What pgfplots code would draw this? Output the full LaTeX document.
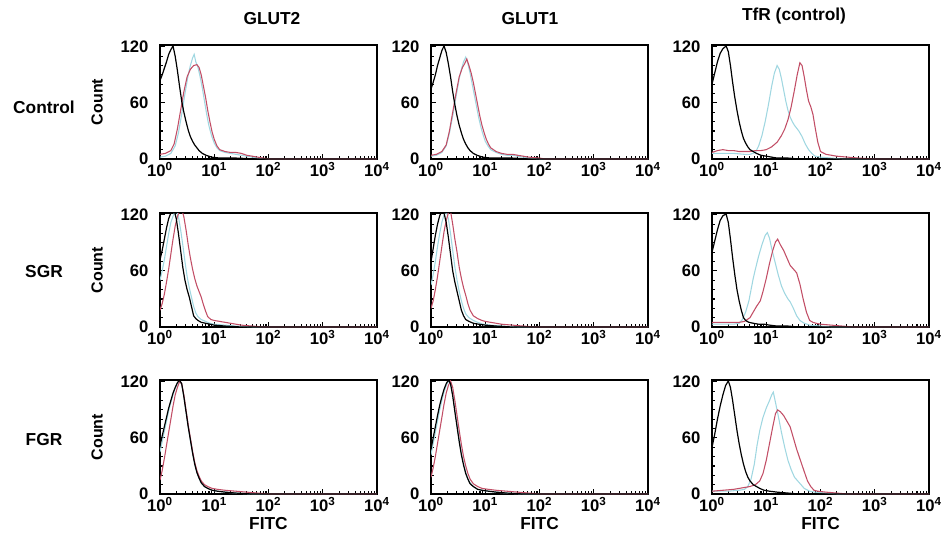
\documentclass[border=0pt]{standalone}
\usepackage{fontspec}
\setmainfont{Liberation Sans}
\usepackage{pgfplots}
\pgfplotsset{compat=1.18}
\definecolor{fblue}{HTML}{A0D7E1}
\definecolor{fred}{HTML}{C24E66}

\newcommand{\sz}[1]{\bfseries\fontsize{#1}{#1}\selectfont}
\newcommand{\dec}[1]{10\textsuperscript{#1}}

\pgfplotsset{
  panel/.style={
    scale only axis, width=162.75pt, height=85.5pt, anchor=north west,
    xmin=0, xmax=4, ymin=0, ymax=122,
    axis line style={line width=1.1pt},
    xtick={0,1,2,3,4},
    xticklabels={\dec{0},\dec{1},\dec{2},\dec{3},\dec{4}},
    minor xtick={0.301,0.477,0.602,0.699,0.778,0.845,0.903,0.954,
      1.301,1.477,1.602,1.699,1.778,1.845,1.903,1.954,
      2.301,2.477,2.602,2.699,2.778,2.845,2.903,2.954,
      3.301,3.477,3.602,3.699,3.778,3.845,3.903,3.954},
    ytick={0,60,120}, yticklabels={\raisebox{-3pt}{0}\hspace{4pt},60,120},
    minor y tick num=5,
    xtick pos=bottom, ytick pos=left,
    tick align=inside, major tick length=3.5pt, minor tick length=2.5pt,
    tick style={line width=0.8pt, black},
    ticklabel style={font=\sz{12.5}, inner sep=1.5pt},
    xticklabel style={yshift=-1pt},
    yticklabel style={xshift=-7pt},
    title style={font=\sz{13}, anchor=south},
    xlabel style={font=\sz{13}, inner sep=0pt, yshift=-2.5pt},
  },
  blk/.style={black, line width=0.9pt},
  blu/.style={fblue, line width=0.8pt},
  rd/.style={fred, line width=0.8pt},
  cnt/.style={ylabel=Count, every axis y label/.style={at={(axis description cs:-0.29,0.5)}, rotate=90, anchor=center, font=\sz{12}}},
}

\begin{document}
\begin{tikzpicture}
\useasboundingbox (0,0) rectangle (708pt,-401.25pt);

\node[font=\sz{13}] at (33pt,-80.25pt) {Control};
\node[font=\sz{13}] at (33pt,-204pt) {SGR};
\node[font=\sz{13}] at (33pt,-330pt) {FGR};

% ---- row 1: Control
\begin{axis}[panel, cnt, at={(120pt,-33.75pt)},
  title=GLUT2, title style={at={(axis description cs:0.516,1)}, yshift=6pt}]
\addplot[blu] coordinates {(0,2)(0.1,3)(0.2,6)(0.28,14)(0.34,28)(0.40,48)(0.46,70)(0.52,90)(0.56,100)(0.60,108)(0.63,112)(0.66,104)(0.70,98)(0.74,88)(0.78,76)(0.82,62)(0.86,48)(0.90,36)(0.95,25)(1.00,17)(1.05,12)(1.10,9)(1.2,7)(1.3,6)(1.4,5)(1.5,4)(1.6,3)(1.7,2)(1.8,1)(2.0,0)(4,0)};
\addplot[rd] coordinates {(0,5)(0.1,6)(0.2,9)(0.26,16)(0.32,32)(0.38,52)(0.44,72)(0.50,88)(0.56,96)(0.62,100)(0.68,101)(0.72,98)(0.76,90)(0.80,78)(0.84,66)(0.88,52)(0.92,40)(0.96,29)(1.00,21)(1.05,14)(1.10,10)(1.2,8)(1.3,7)(1.4,7)(1.5,6)(1.6,4)(1.7,3)(1.8,2)(1.9,1)(2.0,0)(4,0)};
\addplot[blk] coordinates {(0,84)(0.04,90)(0.08,97)(0.12,104)(0.16,112)(0.20,117)(0.24,121)(0.28,110)(0.32,95)(0.36,78)(0.40,62)(0.44,50)(0.48,40)(0.52,31)(0.56,24)(0.60,19)(0.64,15)(0.68,12)(0.72,9)(0.78,6)(0.85,4)(0.95,2)(1.1,1)(1.4,1)(1.8,0)(4,0)};
\end{axis}

\begin{axis}[panel, at={(323.25pt,-33.75pt)},
  title=GLUT1, title style={at={(axis description cs:0.456,1)}, yshift=6pt}]
\addplot[blu] coordinates {(0,3)(0.1,4)(0.2,7)(0.28,14)(0.34,28)(0.40,46)(0.46,66)(0.52,86)(0.56,96)(0.60,104)(0.64,109)(0.68,102)(0.72,92)(0.76,80)(0.80,68)(0.84,56)(0.88,44)(0.92,34)(0.96,26)(1.00,19)(1.05,14)(1.1,10)(1.2,7)(1.3,5)(1.4,4)(1.5,4)(1.6,3)(1.8,1)(2.0,0)(4,0)};
\addplot[rd] coordinates {(0,4)(0.1,5)(0.2,8)(0.28,15)(0.34,30)(0.40,50)(0.46,70)(0.52,88)(0.58,98)(0.62,102)(0.66,107)(0.70,100)(0.74,92)(0.78,82)(0.82,70)(0.86,58)(0.90,46)(0.94,36)(0.98,28)(1.02,21)(1.06,16)(1.1,12)(1.2,8)(1.3,6)(1.4,5)(1.5,5)(1.6,4)(1.7,3)(1.8,2)(2.0,1)(2.1,0)(4,0)};
\addplot[blk] coordinates {(0,75)(0.04,82)(0.08,90)(0.12,100)(0.16,108)(0.20,116)(0.24,121)(0.28,114)(0.32,102)(0.36,88)(0.40,72)(0.44,58)(0.48,46)(0.52,36)(0.56,28)(0.60,21)(0.64,16)(0.68,12)(0.72,9)(0.78,6)(0.85,4)(0.95,2)(1.1,1)(1.5,1)(1.8,0)(4,0)};
\end{axis}

\begin{axis}[panel, at={(534pt,-33.75pt)},
  title={TfR (control)}, title style={at={(axis description cs:0.378,1)}, yshift=6pt}]
\addplot[blu] coordinates {(0,6)(0.2,6)(0.4,6)(0.6,5)(0.7,5)(0.8,7)(0.86,14)(0.92,25)(0.98,40)(1.04,58)(1.10,78)(1.15,92)(1.20,100)(1.24,96)(1.28,86)(1.32,74)(1.36,62)(1.40,52)(1.44,45)(1.48,40)(1.52,36)(1.56,33)(1.60,30)(1.66,24)(1.72,16)(1.78,10)(1.84,6)(1.9,3)(2.0,2)(2.2,1)(2.4,0)(4,0)};
\addplot[rd] coordinates {(0,7)(0.1,9)(0.2,10)(0.3,9)(0.4,9)(0.5,8)(0.6,8)(0.7,8)(0.8,9)(0.9,9)(1.0,10)(1.1,13)(1.2,18)(1.28,25)(1.34,32)(1.40,42)(1.46,56)(1.52,74)(1.57,90)(1.62,103)(1.66,100)(1.70,88)(1.74,74)(1.78,62)(1.82,56)(1.86,48)(1.90,34)(1.95,18)(2.0,8)(2.1,5)(2.2,4)(2.3,3)(2.5,2)(2.7,1)(3.0,0)(4,0)};
\addplot[blk] coordinates {(0,80)(0.05,92)(0.10,104)(0.15,113)(0.20,118)(0.26,121)(0.30,115)(0.34,100)(0.38,82)(0.42,66)(0.46,52)(0.50,40)(0.54,30)(0.58,22)(0.62,17)(0.66,13)(0.70,10)(0.76,8)(0.82,6)(0.90,4)(1.0,3)(1.1,2)(1.2,1)(1.4,1)(1.6,0)(4,0)};
\end{axis}

% ---- row 2: SGR
\begin{axis}[panel, cnt, at={(120pt,-159.75pt)}]
\addplot[blu] coordinates {(0,50)(0.04,60)(0.08,72)(0.12,86)(0.16,100)(0.20,112)(0.25,120)(0.30,125)(0.34,118)(0.38,104)(0.42,88)(0.46,70)(0.50,54)(0.54,42)(0.58,32)(0.62,22)(0.66,15)(0.70,11)(0.76,8)(0.84,6)(0.92,4)(1.0,3)(1.2,2)(1.4,1)(1.7,0)(4,0)};
\addplot[rd] coordinates {(0,18)(0.04,25)(0.08,35)(0.12,48)(0.16,62)(0.20,78)(0.24,94)(0.28,108)(0.32,118)(0.36,124)(0.40,126)(0.44,118)(0.48,104)(0.52,88)(0.56,74)(0.60,62)(0.64,52)(0.68,44)(0.72,38)(0.76,32)(0.80,24)(0.84,17)(0.88,11)(0.94,8)(1.0,7)(1.1,6)(1.2,5)(1.3,4)(1.4,3)(1.5,2)(1.7,1)(1.9,0)(4,0)};
\addplot[blk] coordinates {(0,72)(0.04,82)(0.08,94)(0.12,106)(0.16,116)(0.20,122)(0.26,125)(0.30,116)(0.34,100)(0.38,82)(0.42,64)(0.46,50)(0.50,40)(0.54,32)(0.58,22)(0.62,12)(0.66,9)(0.70,7)(0.76,5)(0.84,4)(0.92,3)(1.0,2)(1.2,1)(1.5,0)(4,0)};
\end{axis}

\begin{axis}[panel, at={(323.25pt,-159.75pt)}]
\addplot[blu] coordinates {(0,45)(0.04,56)(0.08,70)(0.12,86)(0.16,100)(0.20,112)(0.24,120)(0.28,124)(0.32,116)(0.36,100)(0.40,82)(0.44,64)(0.48,50)(0.52,38)(0.56,28)(0.60,20)(0.64,14)(0.70,10)(0.78,7)(0.86,5)(0.96,3)(1.1,2)(1.3,1)(1.6,0)(4,0)};
\addplot[rd] coordinates {(0,20)(0.04,28)(0.08,40)(0.12,54)(0.16,70)(0.20,86)(0.24,102)(0.28,114)(0.32,122)(0.36,124)(0.40,110)(0.44,94)(0.48,80)(0.52,64)(0.56,52)(0.60,42)(0.64,34)(0.68,25)(0.72,18)(0.78,12)(0.86,9)(0.94,7)(1.0,6)(1.1,5)(1.2,4)(1.3,3)(1.5,2)(1.7,1)(1.9,0)(4,0)};
\addplot[blk] coordinates {(0,70)(0.04,84)(0.08,98)(0.12,110)(0.16,119)(0.20,124)(0.24,122)(0.28,112)(0.32,96)(0.36,78)(0.40,60)(0.44,48)(0.48,38)(0.52,28)(0.56,18)(0.60,12)(0.64,8)(0.70,6)(0.78,4)(0.88,3)(1.0,2)(1.2,1)(1.5,0)(4,0)};
\end{axis}

\begin{axis}[panel, at={(534pt,-159.75pt)}]
\addplot[blu] coordinates {(0,3)(0.2,3)(0.4,3)(0.5,4)(0.56,8)(0.62,16)(0.68,28)(0.72,40)(0.76,52)(0.80,62)(0.86,76)(0.92,88)(0.98,98)(1.02,101)(1.06,95)(1.10,84)(1.16,70)(1.22,56)(1.28,44)(1.34,36)(1.40,30)(1.44,27)(1.50,20)(1.56,12)(1.62,7)(1.7,4)(1.8,2)(2.0,1)(2.2,0)(4,0)};
\addplot[rd] coordinates {(0,5)(0.2,5)(0.4,5)(0.5,5)(0.6,6)(0.7,10)(0.76,16)(0.82,22)(0.89,28)(0.94,38)(1.00,52)(1.06,68)(1.12,82)(1.17,91)(1.21,94)(1.26,88)(1.32,82)(1.38,74)(1.44,66)(1.50,62)(1.56,58)(1.62,46)(1.68,30)(1.74,16)(1.80,7)(1.86,5)(1.92,4)(2.0,3)(2.2,2)(2.4,1)(2.6,0)(4,0)};
\addplot[blk] coordinates {(0,80)(0.05,92)(0.10,104)(0.15,114)(0.20,119)(0.26,121)(0.30,112)(0.34,94)(0.38,74)(0.42,56)(0.46,40)(0.50,28)(0.54,18)(0.58,10)(0.62,7)(0.68,5)(0.76,4)(0.86,3)(0.96,3)(1.06,2)(1.2,1)(1.4,1)(1.6,0)(4,0)};
\end{axis}

% ---- row 3: FGR
\begin{axis}[panel, cnt, at={(120pt,-285pt)}, xlabel=FITC]
\addplot[blu] coordinates {(0,45)(0.04,56)(0.08,67)(0.12,78)(0.16,89)(0.20,98)(0.24,106)(0.28,113)(0.32,118)(0.36,121)(0.40,117)(0.44,104)(0.48,88)(0.52,72)(0.56,57)(0.60,44)(0.64,32)(0.68,23)(0.72,17)(0.76,12)(0.82,8)(0.88,6)(0.96,4)(1.06,3)(1.2,2)(1.4,1)(1.7,0)(4,0)};
\addplot[rd] coordinates {(0,15)(0.04,25)(0.08,38)(0.12,52)(0.16,66)(0.20,80)(0.24,94)(0.28,106)(0.32,114)(0.36,120)(0.40,118)(0.44,106)(0.48,90)(0.52,74)(0.56,60)(0.60,46)(0.64,34)(0.68,25)(0.72,19)(0.76,14)(0.82,10)(0.88,8)(0.96,6)(1.06,5)(1.2,4)(1.4,3)(1.6,2)(1.8,1)(2.0,0)(4,0)};
\addplot[blk] coordinates {(0,52)(0.04,62)(0.08,72)(0.12,82)(0.16,92)(0.20,100)(0.24,108)(0.28,114)(0.32,119)(0.36,122)(0.40,118)(0.44,104)(0.48,88)(0.52,72)(0.56,58)(0.60,44)(0.64,32)(0.68,23)(0.72,17)(0.76,12)(0.82,8)(0.88,6)(0.96,4)(1.06,3)(1.2,2)(1.4,1)(1.7,0)(4,0)};
\end{axis}

\begin{axis}[panel, at={(323.25pt,-285pt)}, xlabel=FITC]
\addplot[blu] coordinates {(0,42)(0.04,54)(0.08,66)(0.12,78)(0.16,90)(0.20,100)(0.24,109)(0.28,116)(0.32,121)(0.36,118)(0.40,106)(0.44,90)(0.48,74)(0.52,58)(0.56,44)(0.60,32)(0.64,23)(0.68,16)(0.72,12)(0.78,8)(0.86,5)(0.94,4)(1.06,3)(1.2,2)(1.4,1)(1.7,0)(4,0)};
\addplot[rd] coordinates {(0,18)(0.04,28)(0.08,40)(0.12,54)(0.16,68)(0.20,82)(0.24,96)(0.28,108)(0.32,116)(0.36,121)(0.40,114)(0.44,100)(0.48,84)(0.52,68)(0.56,53)(0.60,40)(0.64,30)(0.68,22)(0.72,16)(0.78,11)(0.86,8)(0.94,6)(1.06,5)(1.2,4)(1.4,3)(1.6,2)(1.8,1)(2.0,0)(4,0)};
\addplot[blk] coordinates {(0,48)(0.04,60)(0.08,72)(0.12,84)(0.16,95)(0.20,104)(0.24,112)(0.28,118)(0.32,122)(0.36,118)(0.40,105)(0.44,88)(0.48,72)(0.52,56)(0.56,42)(0.60,31)(0.64,22)(0.68,16)(0.72,11)(0.78,8)(0.86,5)(0.94,4)(1.06,3)(1.2,2)(1.4,1)(1.7,0)(4,0)};
\end{axis}

\begin{axis}[panel, at={(534pt,-285pt)}, xlabel=FITC]
\addplot[blu] coordinates {(0,3)(0.3,3)(0.5,4)(0.6,5)(0.66,8)(0.72,16)(0.78,32)(0.83,52)(0.88,68)(0.94,82)(1.00,92)(1.06,100)(1.10,106)(1.13,109)(1.17,98)(1.22,84)(1.28,66)(1.34,50)(1.40,36)(1.46,26)(1.52,18)(1.58,14)(1.64,10)(1.7,6)(1.8,3)(1.9,2)(2.1,1)(2.3,0)(4,0)};
\addplot[rd] coordinates {(0,3)(0.2,4)(0.4,5)(0.6,7)(0.7,8)(0.8,10)(0.88,14)(0.94,22)(1.00,36)(1.06,54)(1.12,72)(1.17,86)(1.21,90)(1.26,88)(1.32,84)(1.38,78)(1.44,72)(1.50,60)(1.56,48)(1.63,36)(1.70,24)(1.76,14)(1.82,8)(1.88,4)(1.95,3)(2.1,2)(2.3,1)(2.5,0)(4,0)};
\addplot[blk] coordinates {(0,50)(0.05,64)(0.10,80)(0.15,94)(0.20,106)(0.25,116)(0.30,121)(0.34,114)(0.38,100)(0.42,84)(0.46,68)(0.50,54)(0.54,42)(0.58,32)(0.62,24)(0.66,18)(0.70,14)(0.76,10)(0.82,8)(0.88,6)(0.96,4)(1.06,3)(1.2,2)(1.4,1)(1.6,0)(4,0)};
\end{axis}
\end{tikzpicture}
\end{document}
